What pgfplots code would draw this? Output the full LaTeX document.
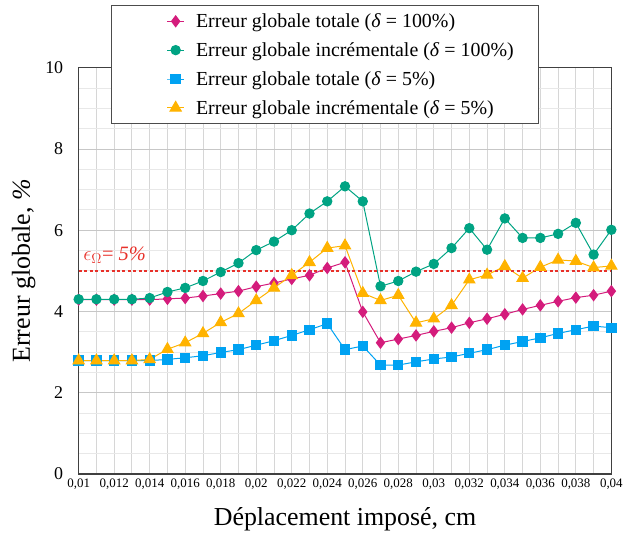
\documentclass[border=0pt]{standalone}
\usepackage{pgfplots}
\pgfplotsset{compat=1.18}
\usepackage{fontspec}
\setmainfont{Liberation Serif}

\definecolor{cMag}{HTML}{D41C7C}
\definecolor{cGreen}{HTML}{00A383}
\definecolor{cBlue}{HTML}{00A2F2}
\definecolor{cOrange}{HTML}{FFB300}
\definecolor{cRed}{HTML}{E8312A}

\pgfplotsset{
  myleg/.style={legend image code/.code={
      \path[draw=none,fill=none] (-1.17cm,0) -- (0.95cm,0);
      \draw[mark repeat=2,mark phase=2] plot coordinates {(0cm,0cm) (0.3cm,0cm) (0.6cm,0cm)};
  }},
}

\begin{document}
\begin{tikzpicture}
\begin{axis}[
    name=ax,
    scale only axis,
    width=535pt, height=408pt,
    xmin=0.01, xmax=0.04,
    ymin=0, ymax=10,
    scaled x ticks=false,
    xtick={0.01,0.012,0.014,0.016,0.018,0.02,0.022,0.024,0.026,0.028,0.03,0.032,0.034,0.036,0.038,0.04},
    xticklabels={0{,}01,0{,}012,0{,}014,0{,}016,0{,}018,0{,}02,0{,}022,0{,}024,0{,}026,0{,}028,0{,}03,0{,}032,0{,}034,0{,}036,0{,}038,0{,}04},
    ytick={0,2,4,6,8,10},
    minor x tick num=1,
    minor y tick num=3,
    grid=both,
    major x grid style={draw=black!16, line width=0.9pt},
    minor x grid style={draw=black!16, line width=0.9pt},
    major y grid style={draw=black!22, line width=0.9pt},
    minor y grid style={draw=black!9, line width=0.9pt},
    major tick length=0pt, minor tick length=0pt,
    /pgf/number format/assume math mode=true,
    xticklabel style={font=\rmfamily\fontsize{13}{15}\selectfont, yshift=-1pt},
    yticklabel style={font=\rmfamily\fontsize{18}{20}\selectfont, xshift=-12pt},
    xlabel={Déplacement imposé, cm},
    ylabel={Erreur globale, \textit{\%}},
    xlabel style={font=\rmfamily\fontsize{26}{30}\selectfont, yshift=-12pt},
    ylabel style={font=\rmfamily\fontsize{26}{30}\selectfont, yshift=3pt},
    axis line style={line width=1.2pt, draw=black!75},
    legend style={at={(0.06,1.154)}, anchor=north west, draw=black!70,
        line width=1pt, font=\rmfamily\fontsize{20}{23}\selectfont,
        inner xsep=23pt, inner ysep=6pt, row sep=9.5pt, cells={anchor=west}},
    clip=false,
]
\addplot[myleg, cMag, line width=1pt, mark=diamond*, mark size=5.5pt, mark options={fill=cMag}] coordinates {
(0.010,4.29)(0.011,4.29)(0.012,4.29)(0.013,4.29)(0.014,4.29)(0.015,4.31)(0.016,4.33)(0.017,4.38)
(0.018,4.44)(0.019,4.50)(0.020,4.61)(0.021,4.70)(0.022,4.80)(0.023,4.89)(0.024,5.07)(0.025,5.21)
(0.026,3.99)(0.027,3.23)(0.028,3.32)(0.029,3.41)(0.030,3.51)(0.031,3.60)(0.032,3.72)(0.033,3.82)
(0.034,3.93)(0.035,4.05)(0.036,4.15)(0.037,4.25)(0.038,4.34)(0.039,4.40)(0.040,4.50)};
\addlegendentry{Erreur globale totale (\textit{δ} = 100\%)}
\addplot[myleg, cGreen, line width=1pt, mark=*, mark size=4.7pt, mark options={fill=cGreen}] coordinates {
(0.010,4.30)(0.011,4.30)(0.012,4.30)(0.013,4.30)(0.014,4.33)(0.015,4.48)(0.016,4.58)(0.017,4.75)
(0.018,4.97)(0.019,5.19)(0.020,5.51)(0.021,5.72)(0.022,6.00)(0.023,6.41)(0.024,6.71)(0.025,7.08)
(0.026,6.71)(0.027,4.62)(0.028,4.75)(0.029,4.98)(0.030,5.17)(0.031,5.56)(0.032,6.05)(0.033,5.52)
(0.034,6.29)(0.035,5.81)(0.036,5.81)(0.037,5.91)(0.038,6.18)(0.039,5.40)(0.040,6.01)};
\addlegendentry{Erreur globale incrémentale (\textit{δ} = 100\%)}
\addplot[myleg, cBlue, line width=1pt, mark=square*, mark size=4.7pt, mark options={fill=cBlue}] coordinates {
(0.010,2.79)(0.011,2.79)(0.012,2.79)(0.013,2.79)(0.014,2.79)(0.015,2.82)(0.016,2.86)(0.017,2.91)
(0.018,2.99)(0.019,3.06)(0.020,3.17)(0.021,3.28)(0.022,3.41)(0.023,3.55)(0.024,3.70)(0.025,3.06)
(0.026,3.15)(0.027,2.68)(0.028,2.68)(0.029,2.76)(0.030,2.83)(0.031,2.88)(0.032,2.97)(0.033,3.06)
(0.034,3.17)(0.035,3.26)(0.036,3.35)(0.037,3.46)(0.038,3.55)(0.039,3.64)(0.040,3.60)};
\addlegendentry{Erreur globale totale (\textit{δ} = 5\%)}
\addplot[myleg, cOrange, line width=1pt, mark=triangle*, mark size=6.5pt, mark options={fill=cOrange}] coordinates {
(0.010,2.79)(0.011,2.79)(0.012,2.79)(0.013,2.79)(0.014,2.82)(0.015,3.07)(0.016,3.23)(0.017,3.46)
(0.018,3.73)(0.019,3.95)(0.020,4.27)(0.021,4.58)(0.022,4.89)(0.023,5.21)(0.024,5.56)(0.025,5.62)
(0.026,4.45)(0.027,4.27)(0.028,4.40)(0.029,3.72)(0.030,3.82)(0.031,4.15)(0.032,4.78)(0.033,4.90)
(0.034,5.11)(0.035,4.82)(0.036,5.09)(0.037,5.27)(0.038,5.24)(0.039,5.08)(0.040,5.12)};
\addlegendentry{Erreur globale incrémentale (\textit{δ} = 5\%)}
\addplot[cRed, line width=1.6pt, dash pattern=on 3pt off 2.5pt, forget plot] coordinates {(0.010,5)(0.040,5)};
\node[anchor=base west, text=cRed, font=\rmfamily\fontsize{20.5}{22}\selectfont, inner sep=0pt]
    at (axis cs:0.01025,5.25) {$\epsilon_{\Omega}$= \textit{5\%}};
\coordinate (bl) at (rel axis cs:0,0);
\coordinate (tr) at (rel axis cs:1,1);
\end{axis}
\path ([xshift=-79pt,yshift=-62pt]bl) rectangle ([xshift=12pt,yshift=68pt]tr);
\end{tikzpicture}
\end{document}
